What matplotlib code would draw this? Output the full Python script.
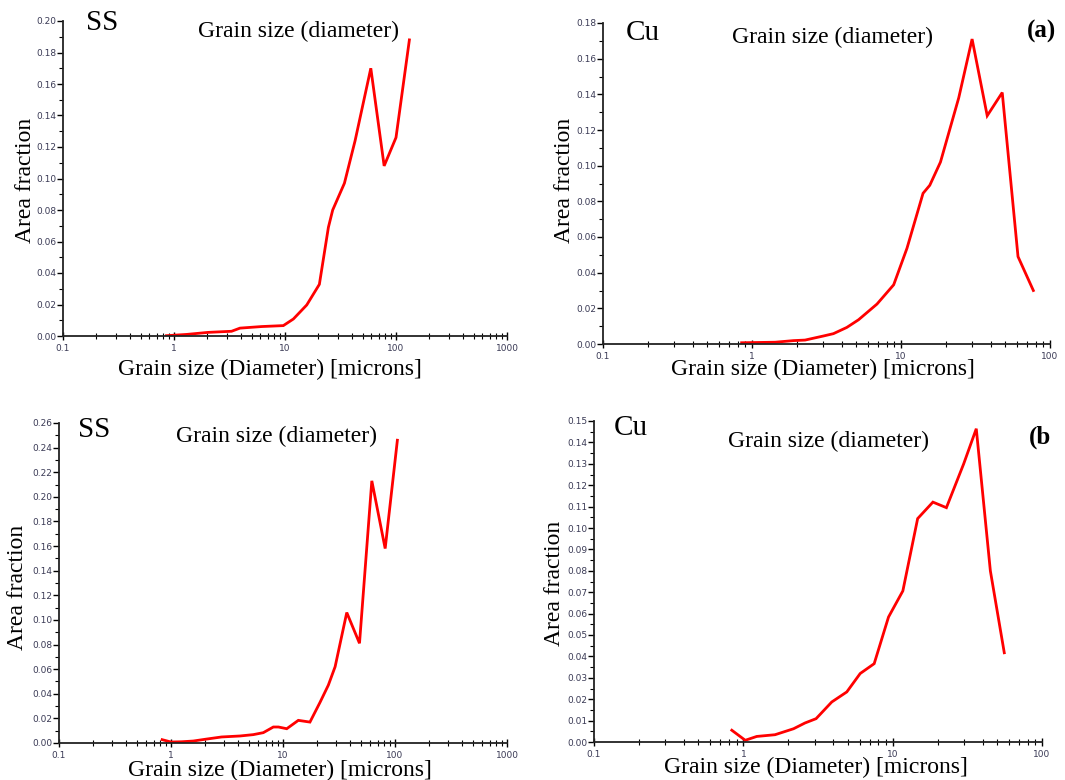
import matplotlib
matplotlib.use("Agg")
import matplotlib.pyplot as plt
from matplotlib.ticker import LogLocator, MultipleLocator, FixedFormatter, FixedLocator, NullFormatter

# Grain size distributions (diameter in microns vs. area fraction)
ss_a_size = [0.855, 1.30, 2.03, 3.30, 3.93, 6.16, 9.66, 11.9, 15.7, 20.4, 24.6, 26.9,
             34.3, 42.8, 59.3, 78.2, 100.0, 132.0]
ss_a_frac = [0.0002, 0.001, 0.0023, 0.003, 0.005, 0.006, 0.0066, 0.0108, 0.0197, 0.0328,
             0.069, 0.080, 0.097, 0.124, 0.170, 0.108, 0.126, 0.188]

cu_a_size = [0.852, 1.43, 1.90, 2.27, 3.02, 3.52, 4.33, 5.19, 6.90, 8.93, 10.97, 14.06,
             15.6, 18.4, 24.4, 30.0, 37.9, 47.8, 61.0, 77.3]
cu_a_frac = [0.0007, 0.001, 0.0019, 0.0022, 0.0045, 0.0058, 0.0093, 0.0136, 0.0224, 0.0332,
             0.0537, 0.0845, 0.089, 0.102, 0.138, 0.171, 0.128, 0.141, 0.049, 0.030]

ss_b_size = [0.834, 1.0, 1.24, 1.58, 2.08, 2.83, 4.13, 5.43, 6.67, 8.2, 9.1, 10.8, 13.7,
             17.4, 21.4, 25.4, 29.2, 37.1, 48.2, 62.1, 81.7, 105.0]
ss_b_frac = [0.0027, 0.0008, 0.001, 0.0016, 0.0032, 0.0049, 0.0057, 0.0068, 0.0084, 0.013,
             0.013, 0.0116, 0.0184, 0.017, 0.033, 0.047, 0.062, 0.106, 0.081, 0.213, 0.158, 0.246]

cu_b_size = [0.837, 1.03, 1.23, 1.63, 2.17, 2.59, 3.07, 3.91, 4.93, 6.06, 7.52, 9.38, 11.7,
             14.7, 18.6, 22.9, 29.9, 36.3, 45.1, 55.9]
cu_b_frac = [0.0055, 0.0008, 0.0026, 0.0034, 0.0062, 0.0089, 0.0109, 0.0187, 0.0234, 0.032,
             0.0366, 0.0584, 0.0706, 0.1044, 0.1121, 0.1095, 0.130, 0.1464, 0.080, 0.0417]

ss_a_yticks = [0.00, 0.02, 0.04, 0.06, 0.08, 0.10, 0.12, 0.14, 0.16, 0.18, 0.20]
cu_a_yticks = [0.00, 0.02, 0.04, 0.06, 0.08, 0.10, 0.12, 0.14, 0.16, 0.18]
ss_b_yticks = [0.00, 0.02, 0.04, 0.06, 0.08, 0.10, 0.12, 0.14, 0.16, 0.18, 0.20, 0.22, 0.24, 0.26]
cu_b_yticks = [0.00, 0.01, 0.02, 0.03, 0.04, 0.05, 0.06, 0.07, 0.08, 0.09, 0.10, 0.11,
               0.12, 0.13, 0.14, 0.15]

W, H = 1065, 780
fig = plt.figure(figsize=(W / 100, H / 100), dpi=100)
fig.patch.set_facecolor("white")

SERIF = ["Liberation Serif", "DejaVu Serif"]
TICK_COLOR = "#3a3a55"


def px_axes(left, right, top, bottom):
    return fig.add_axes([left / W, 1 - bottom / H, (right - left) / W, (bottom - top) / H])


def ftext(x, y, s, **kw):
    fig.text(x / W, 1 - y / H, s, family=SERIF, **kw)


def panel(box, xs, ys, xmax, yticks, ystep_minor, decimals):
    ax = px_axes(*box)
    ax.plot(xs, ys, color="#ff0000", lw=2.0, solid_joinstyle="miter")
    ax.set_xscale("log")
    ax.set_xlim(0.1, xmax)
    ax.set_ylim(0, yticks[-1])
    for side in ("top", "right"):
        ax.spines[side].set_visible(False)
    for side in ("left", "bottom"):
        ax.spines[side].set_linewidth(1.3)
        ax.spines[side].set_color("#222222")
    decades = [10.0 ** k for k in range(-1, 4) if 10.0 ** k <= xmax * 1.0001]
    ax.xaxis.set_major_locator(FixedLocator(decades))
    ax.xaxis.set_major_formatter(FixedFormatter([("%g" % d) for d in decades]))
    ax.xaxis.set_minor_locator(LogLocator(base=10, subs=range(2, 10)))
    ax.xaxis.set_minor_formatter(NullFormatter())
    ax.yaxis.set_major_locator(FixedLocator(yticks))
    ax.yaxis.set_major_formatter(FixedFormatter([f"{v:.{decimals}f}" for v in yticks]))
    ax.yaxis.set_minor_locator(MultipleLocator(ystep_minor))
    ax.tick_params(axis="x", which="major", direction="inout", length=6, width=1.0,
                   labelsize=6.5, labelcolor=TICK_COLOR, pad=3)
    ax.tick_params(axis="x", which="minor", direction="inout", length=4, width=0.8)
    ax.tick_params(axis="y", which="major", direction="out", length=4, width=1.0,
                   labelsize=6.5, labelcolor=TICK_COLOR, pad=1)
    ax.tick_params(axis="y", which="minor", direction="out", length=3, width=0.8)
    ax.set_facecolor("none")
    return ax


panel((63, 507, 21, 336), ss_a_size, ss_a_frac, 1000, ss_a_yticks, 0.01, 2)
panel((603, 1050, 23, 344), cu_a_size, cu_a_frac, 100, cu_a_yticks, 0.01, 2)
panel((59, 507, 423, 743), ss_b_size, ss_b_frac, 1000, ss_b_yticks, 0.01, 2)
panel((594, 1042, 421, 742), cu_b_size, cu_b_frac, 100, cu_b_yticks, 0.005, 2)

LBL = 17
TAG = 21
# Top-left
ftext(86, 23, "SS", fontsize=TAG, ha="left", va="center")
ftext(298, 31, "Grain size (diameter)", fontsize=LBL, ha="center", va="center")
ftext(270, 369, "Grain size (Diameter) [microns]", fontsize=LBL, ha="center", va="center")
ftext(26, 180, "Area fraction", fontsize=LBL, ha="center", va="center", rotation=90)
# Top-right
ftext(626, 33, "Cu", fontsize=TAG, ha="left", va="center")
ftext(833, 37, "Grain size (diameter)", fontsize=LBL, ha="center", va="center")
ftext(1041, 31, "(a)", fontsize=18, weight="bold", ha="center", va="center")
ftext(823, 369, "Grain size (Diameter) [microns]", fontsize=LBL, ha="center", va="center")
ftext(565, 180, "Area fraction", fontsize=LBL, ha="center", va="center", rotation=90)
# Bottom-left
ftext(78, 430, "SS", fontsize=TAG, ha="left", va="center")
ftext(277, 436, "Grain size (diameter)", fontsize=LBL, ha="center", va="center")
ftext(280, 770, "Grain size (Diameter) [microns]", fontsize=LBL, ha="center", va="center")
ftext(18, 587, "Area fraction", fontsize=LBL, ha="center", va="center", rotation=90)
# Bottom-right
ftext(614, 428, "Cu", fontsize=TAG, ha="left", va="center")
ftext(829, 441, "Grain size (diameter)", fontsize=LBL, ha="center", va="center")
ftext(1029, 437, "(b", fontsize=18, weight="bold", ha="left", va="center")
ftext(816, 767, "Grain size (Diameter) [microns]", fontsize=LBL, ha="center", va="center")
ftext(555, 583, "Area fraction", fontsize=LBL, ha="center", va="center", rotation=90)

fig.savefig("out.png", dpi=100, facecolor="white")
